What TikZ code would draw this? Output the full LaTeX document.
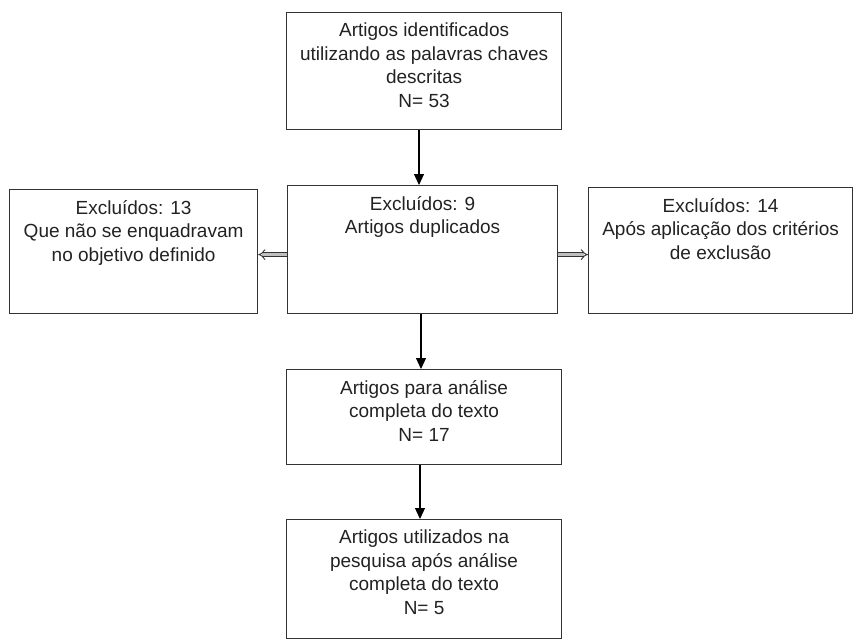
\documentclass[tikz,border=0pt]{standalone}
\usepackage{fontspec}
\setmainfont{Liberation Sans}
\usetikzlibrary{arrows.meta}
\definecolor{boxline}{HTML}{333333}
\definecolor{txt}{HTML}{222222}
\begin{document}
\begin{tikzpicture}[x=1pt,y=1pt,
  box/.style={draw=boxline, line width=1.2pt, inner sep=0pt, anchor=north west},
  label/.style={anchor=north, inner sep=0pt, align=center, text=txt,
    font=\fontsize{19}{23.5}\selectfont},
  down/.style={draw=black, line width=1.1pt, -{Triangle[length=11pt,width=10pt]}},
  side/.style={draw=boxline, line width=0.9pt, double=gray!50, double distance=2.8pt,
    -{Implies}}
]
\useasboundingbox (0,0) rectangle (855,-642);
% boxes
\node[box, minimum width=275pt, minimum height=117pt] (top) at (286,-12) {};
\node[box, minimum width=270pt, minimum height=128pt] (mid) at (287,-185) {};
\node[box, minimum width=248pt, minimum height=124pt] (left) at (9,-189) {};
\node[box, minimum width=264pt, minimum height=126pt] (right) at (588,-187) {};
\node[box, minimum width=275pt, minimum height=95pt] (full) at (286,-369) {};
\node[box, minimum width=275pt, minimum height=119pt] (used) at (286,-519) {};
% texts
\node[label] (ttop) at ([yshift=-11pt]top.north) {Artigos identificados\\utilizando as palavras chaves\\descritas\\N= 53};
\node[label] (tmid) at ([yshift=-11pt]mid.north) {Excluídos: 9\\Artigos duplicados};
\node[label] (tleft) at ([yshift=-11pt]left.north) {Excluídos: 13\\Que não se enquadravam\\no objetivo definido};
\node[label] (tright) at ([yshift=-11pt]right.north) {Excluídos: 14\\Após aplicação dos critérios\\de exclusão};
\node[label] (tfull) at ([yshift=-11pt]full.north) {Artigos para análise\\completa do texto\\N= 17};
\node[label] (tused) at ([yshift=-11pt]used.north) {Artigos utilizados na\\pesquisa após análise\\completa do texto\\N= 5};
% connector anchors
\coordinate (ax1) at (419,0);
\coordinate (ax2) at (421,0);
\coordinate (ax3) at (420,0);
\coordinate (mw) at ([yshift=-5pt]mid.west);
\coordinate (me) at ([yshift=-5pt]mid.east);
% connectors
\draw[down] (top.south -| ax1) -- (mid.north -| ax1);
\draw[down] (mid.south -| ax2) -- (full.north -| ax2);
\draw[down] (full.south -| ax3) -- (used.north -| ax3);
\draw[side] (mw) -- (left.east |- mw);
\draw[side] (me) -- (right.west |- me);
\end{tikzpicture}
\end{document}
